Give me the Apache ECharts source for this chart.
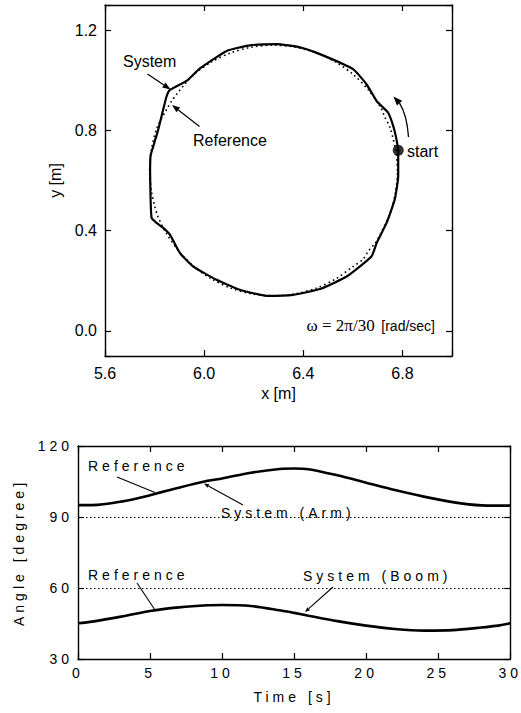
<!DOCTYPE html>
<html><head><meta charset="utf-8">
<script src="https://cdn.jsdelivr.net/npm/echarts@6.0.0/dist/echarts.min.js"></script>
<style>
body{margin:0;background:#fff;}
#top{position:absolute;left:0;top:0;width:521px;height:420px;}
#bot{position:absolute;left:0;top:420px;width:521px;height:293px;letter-spacing:4px;}
</style></head><body>
<div id="top"></div><div id="bot"></div>
<script>
// ---- Top chart: trajectory (x,y in m) ----
const sysX = [6.783,6.776,6.763,6.742,6.716,6.696,6.655,6.601,6.467,6.386,6.292,6.185,6.091,5.983,5.929,5.862,5.849,5.835,5.815,5.795,5.784,5.782,5.784,5.788,5.808,5.835,5.862,5.902,5.956,6.050,6.144,6.252,6.359,6.467,6.575,6.675,6.696,6.736,6.769,6.783,6.783];
const sysY = [0.721,0.764,0.817,0.871,0.897,0.917,0.984,1.044,1.104,1.131,1.144,1.139,1.117,1.047,0.997,0.961,0.937,0.884,0.804,0.737,0.700,0.631,0.524,0.451,0.431,0.411,0.384,0.311,0.257,0.204,0.164,0.140,0.144,0.167,0.217,0.297,0.351,0.431,0.524,0.617,0.721];
const refX = [6.774,6.750,6.728,6.713,6.663,6.601,6.530,6.451,6.367,6.280,6.193,6.109,6.030,5.959,5.916,5.889,5.869,5.849,5.810,5.788,5.780,5.788,5.800,5.812,5.830,5.847,5.897,5.959,6.030,6.109,6.193,6.280,6.367,6.451,6.530,6.601,6.640,6.663,6.690,6.713,6.750,6.772,6.780,6.774];
const refY = [0.718,0.811,0.855,0.890,0.961,1.023,1.073,1.110,1.132,1.140,1.132,1.110,1.073,1.023,0.977,0.944,0.917,0.884,0.811,0.727,0.640,0.553,0.500,0.460,0.420,0.390,0.319,0.257,0.207,0.170,0.148,0.140,0.148,0.170,0.207,0.257,0.285,0.319,0.350,0.390,0.469,0.553,0.640,0.718];
const startPt = [6.783, 0.721];
const xTicks = [5.6, 6.0, 6.4, 6.8];
const yTicks = [0.0, 0.4, 0.8, 1.2];

// ---- Bottom chart: joint angles (degree) vs time (s) ----
const time = [0,1,3,5,7,9,10,12,14,15,16,18,20,22,24,26,28,29,30];
const armAngle = [95.0,95.0,96.5,99.2,102.4,105.3,106.3,108.7,110.3,110.5,110.2,107.6,104.5,101.4,98.6,96.3,94.9,94.8,94.8];
const boomAngle = [45.1,45.8,47.9,50.3,51.8,52.7,52.8,52.4,50.6,49.5,48.3,46.0,44.1,42.7,42.0,42.2,43.3,44.0,45.1];
const refLevels = [90, 60];
const tTicks = [0,5,10,15,20,25,30];
const aTicks = [30,60,90,120];

const F = 'Liberation Sans, Arial, sans-serif';
const black = '#000';

function isTick(v, list){ return list.some(t => Math.abs(t - v) < 1e-6); }

function arrowEls(x1,y1,x2,y2,len,w,lw){
  const dx=x2-x1, dy=y2-y1, L=Math.hypot(dx,dy), ux=dx/L, uy=dy/L;
  const bx=x2-ux*len, by=y2-uy*len;
  return [
    {type:'line', shape:{x1:x1,y1:y1,x2:bx,y2:by}, style:{stroke:black,lineWidth:lw}},
    {type:'polygon', shape:{points:[[x2,y2],[bx-uy*w,by+ux*w],[bx+uy*w,by-ux*w]]}, style:{fill:black}}
  ];
}

function axisCommon(){
  return {
    axisLine:{show:true,onZero:false,lineStyle:{color:black,width:1.4}},
    axisTick:{show:true,inside:true,length:6,lineStyle:{color:black,width:1.2}},
    splitLine:{show:false}
  };
}

// ---------- top ----------
const topChart = echarts.init(document.getElementById('top'), null, {renderer:'svg'});
const curveHead = (function(){
  const x2=393.5,y2=96.5,cx=404,cy=108;
  const dx=x2-cx, dy=y2-cy, L=Math.hypot(dx,dy), ux=dx/L, uy=dy/L, len=9, w=3.5;
  const bx=x2-ux*len, by=y2-uy*len;
  return [
    {type:'bezierCurve', shape:{x1:408.5,y1:137,x2:bx,y2:by,cpx1:407,cpy1:115}, style:{stroke:black,lineWidth:1.3,fill:null}},
    {type:'polygon', shape:{points:[[x2,y2],[bx-uy*w,by+ux*w],[bx+uy*w,by-ux*w]]}, style:{fill:black}}
  ];
})();
topChart.setOption({
  animation:false,
  grid:{left:105,top:5,width:347,height:351},
  xAxis:[
    Object.assign(axisCommon(),{type:'value',min:5.6,max:7.0,interval:0.4,position:'bottom',
      axisLabel:{color:black,fontSize:16,fontFamily:F,margin:9,formatter:v=>isTick(v,xTicks)?v.toFixed(1):''},
      name:'x [m]',nameLocation:'middle',nameGap:29,nameTextStyle:{color:black,fontSize:16,fontFamily:F}}),
    Object.assign(axisCommon(),{type:'value',min:5.6,max:7.0,interval:0.4,position:'top',axisLabel:{show:false}})
  ],
  yAxis:[
    Object.assign(axisCommon(),{type:'value',min:-0.1,max:1.3,minInterval:0.4,maxInterval:0.4,position:'left',
      axisLabel:{color:black,fontSize:16,fontFamily:F,margin:8,formatter:v=>isTick(v,yTicks)?v.toFixed(1):''},
      name:'y [m]',nameLocation:'middle',nameGap:35,nameTextStyle:{color:black,fontSize:16,fontFamily:F}}),
    Object.assign(axisCommon(),{type:'value',min:-0.1,max:1.3,minInterval:0.4,maxInterval:0.4,position:'right',axisLabel:{show:false}})
  ],
  series:[
    {name:'Reference',type:'line',data:refX.map((x,i)=>[x,refY[i]]),showSymbol:false,smooth:0.3,
      lineStyle:{color:black,width:1.6,type:[1.6,3.2]}},
    {name:'System',type:'line',data:sysX.map((x,i)=>[x,sysY[i]]),showSymbol:false,smooth:0.15,
      lineStyle:{color:black,width:2.2}},
    {name:'start',type:'scatter',data:[startPt],symbolSize:11,itemStyle:{color:black}}
  ],
  graphic:[
    {type:'text',left:123,top:53,style:{text:'System',font:'16px '+F,fill:black}},
    ...arrowEls(147.5,74,170.5,89.5,8,3,1.2),
    {type:'text',left:193,top:132,style:{text:'Reference',font:'16px '+F,fill:black}},
    ...arrowEls(199.5,126.5,172,105,8,3,1.2),
    {type:'text',left:407,top:143,style:{text:'start',font:'16px '+F,fill:black}},
    ...curveHead,
    {type:'text',right:86,top:317,style:{
      text:'{a|ω = 2π/30}  {b|[rad/sec]}',
      rich:{a:{fontFamily:'Liberation Serif, serif',fontSize:17,fill:black,color:black},
            b:{fontFamily:F,fontSize:14,fill:black,color:black}}}}
  ]
});

// ---------- bottom ----------
const botChart = echarts.init(document.getElementById('bot'), null, {renderer:'svg'});
botChart.setOption({
  animation:false,
  grid:{left:78,top:26,width:433,height:213},
  xAxis:[
    Object.assign(axisCommon(),{type:'value',min:0,max:30,interval:5,position:'bottom',
      axisLabel:{color:black,fontSize:14,fontFamily:F,margin:7,formatter:v=>isTick(v,tTicks)?String(v):''},
      name:'Time [s]',nameLocation:'middle',nameGap:31,nameTextStyle:{color:black,fontSize:14,fontFamily:F}}),
    Object.assign(axisCommon(),{type:'value',min:0,max:30,interval:5,position:'top',axisLabel:{show:false}})
  ],
  yAxis:[
    Object.assign(axisCommon(),{type:'value',min:30,max:120,interval:30,position:'left',
      axisLabel:{color:black,fontSize:14,fontFamily:F,margin:5,formatter:v=>isTick(v,aTicks)?String(v):''},
      name:'Angle [degree]',nameLocation:'middle',nameGap:52,nameTextStyle:{color:black,fontSize:14,fontFamily:F}}),
    Object.assign(axisCommon(),{type:'value',min:30,max:120,interval:30,position:'right',axisLabel:{show:false}})
  ],
  series:[
    {name:'System (Arm)',type:'line',data:time.map((t,i)=>[t,armAngle[i]]),showSymbol:false,smooth:0.3,
      lineStyle:{color:black,width:2.6},
      markLine:{silent:true,symbol:'none',label:{show:false},
        lineStyle:{color:black,width:1,type:[1.5,2.5]},
        data:refLevels.map(v=>({yAxis:v}))}},
    {name:'System (Boom)',type:'line',data:time.map((t,i)=>[t,boomAngle[i]]),showSymbol:false,smooth:0.3,
      lineStyle:{color:black,width:2.6}}
  ],
  graphic:[
    {type:'text',left:88,top:39,style:{text:'Reference',font:'14px '+F,fill:black}},
    {type:'line',shape:{x1:117,y1:57,x2:155,y2:72.5},style:{stroke:black,lineWidth:1.1}},
    {type:'text',left:221,top:86,style:{text:'System (Arm)',font:'14px '+F,fill:black}},
    ...arrowEls(243,85,204,63.5,5,2,1.1),
    {type:'text',left:88,top:148,style:{text:'Reference',font:'14px '+F,fill:black}},
    {type:'line',shape:{x1:137,y1:163,x2:155,y2:190},style:{stroke:black,lineWidth:1.1}},
    {type:'text',left:303,top:149,style:{text:'System (Boom)',font:'14px '+F,fill:black}},
    ...arrowEls(333,167,305,192,5,2,1.1)
  ]
});
</script></body></html>
